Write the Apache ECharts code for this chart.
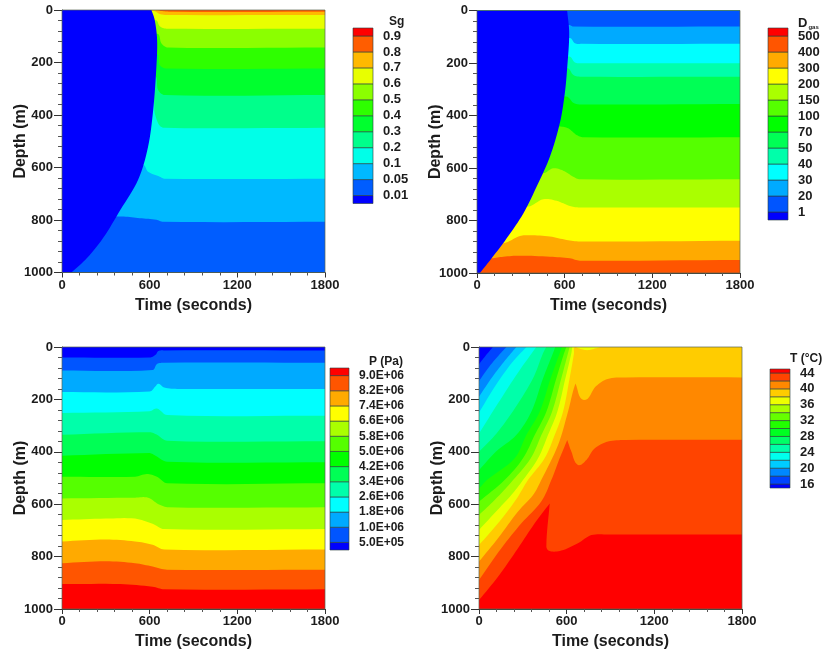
<!DOCTYPE html>
<html>
<head>
<meta charset="utf-8">
<title>Sg, Dgas, P, T</title>
<script src="https://cdn.jsdelivr.net/npm/echarts@6/dist/echarts.min.js"></script>
<style>
    html, body { margin: 0; padding: 0; background: #fff; }
    /* the source figure is a soft scan */
    #main { width: 825px; height: 655px; filter: blur(0.4px); }
</style>
</head>
<body>
<div id="main"></div>
<script>
// colour bar labels, bottom to top
const sgLevels = ['0.01', '0.05', '0.1', '0.2', '0.3', '0.4', '0.5', '0.6', '0.7', '0.8', '0.9'];
const dgasLevels = ['1', '20', '30', '40', '50', '70', '100', '150', '200', '300', '400', '500'];
const pLevels = ['5.0E+05', '1.0E+06', '1.8E+06', '2.6E+06', '3.4E+06', '4.2E+06', '5.0E+06', '5.8E+06', '6.6E+06', '7.4E+06', '8.2E+06', '9.0E+06'];
const tLevels = ['16', '18', '20', '22', '24', '26', '28', '30', '32', '34', '36', '38', '40', '42', '44'];

// contour lines as [time, depth], deepest first. the band index says which colour goes above the line
const sgBands = [1, 2, 3, 4, 5, 6, 7, 8, 9, 10, 0];
const sgContours = [
    [[0, 1000], [1800, 1000]],
    [[0, 787], [423, 787], [532, 793], [646, 799], [692, 807], [1800, 807]],
    [[0, 590], [555, 590], [589, 616], [669, 635], [703, 643], [1800, 643]],
    [[0, 343], [612, 343], [635, 394], [665, 438], [703, 449], [1800, 449]],
    [[0, 248], [628, 248], [658, 305], [703, 324], [1800, 324]],
    [[0, 166], [646, 166], [669, 210], [715, 223], [1800, 223]],
    [[0, 90], [651, 90], [681, 128], [726, 143], [1800, 143]],
    [[0, 39], [642, 39], [669, 62], [715, 71], [1800, 71]],
    [[0, 4], [628, 4], [669, 15], [715, 19], [1800, 19]],
    [[640, 0], [700, 5], [760, 7], [1800, 7]],
    [[0, 1000], [64, 1000], [64, 1000], [171, 945], [281, 869], [400, 761], [521, 647], [589, 521], [624, 381], [646, 217], [651, 115], [635, 39], [612, 0]]
];

const dgasBands = [11, 10, 9, 8, 7, 6, 5, 4, 3, 2, 1, 0];
const dgasContours = [
    [[0, 1000], [1800, 1000]],
    [[0, 944], [100, 944], [180, 938], [294, 934], [499, 938], [636, 944], [704, 953], [1800, 950]],
    [[0, 887], [180, 887], [294, 859], [362, 856], [499, 861], [613, 874], [704, 880], [1800, 877]],
    [[0, 747], [351, 747], [453, 719], [545, 725], [636, 745], [693, 750], [1800, 750]],
    [[0, 620], [453, 620], [522, 601], [590, 610], [658, 633], [704, 643], [1800, 643]],
    [[0, 442], [567, 442], [624, 449], [681, 474], [727, 483], [1800, 483]],
    [[0, 328], [613, 328], [658, 351], [704, 358], [1800, 356]],
    [[0, 220], [620, 220], [658, 245], [704, 252], [1800, 252]],
    [[0, 175], [631, 175], [670, 198], [715, 201], [1800, 201]],
    [[0, 105], [636, 105], [670, 125], [715, 127], [1800, 127]],
    [[0, 55], [631, 55], [658, 61], [1800, 61]],
    [[0, 1000], [20, 1000], [20, 1000], [100, 944], [203, 868], [317, 773], [419, 658], [499, 557], [567, 429], [601, 315], [618, 213], [631, 86], [617, 0]]
];

const pBands = [12, 11, 10, 9, 8, 7, 6, 5, 4, 3, 2, 1, 0];
const pContours = [
    [[0, 1000], [1800, 1000]],
    [[0, 905], [400, 905], [620, 915], [700, 925], [1800, 925]],
    [[0, 825], [300, 818], [500, 825], [620, 838], [720, 850], [1800, 850]],
    [[0, 742], [300, 735], [500, 742], [620, 755], [700, 773], [1800, 773]],
    [[0, 660], [300, 655], [500, 655], [620, 675], [700, 695], [1800, 695]],
    [[0, 578], [500, 575], [590, 575], [660, 600], [730, 612], [1800, 612]],
    [[0, 495], [500, 495], [580, 485], [650, 495], [720, 520], [1800, 520]],
    [[0, 415], [600, 405], [640, 415], [720, 438], [1800, 440]],
    [[0, 335], [600, 325], [650, 335], [720, 358], [1800, 360]],
    [[0, 252], [600, 245], [650, 235], [720, 260], [1800, 262]],
    [[0, 172], [600, 170], [640, 150], [660, 140], [700, 155], [800, 160], [1800, 160]],
    [[0, 90], [620, 88], [650, 65], [700, 60], [1800, 60]],
    [[0, 40], [600, 40], [640, 30], [660, 15], [700, 13], [1800, 13]]
];

const tBands = [15, 14, 13, 12, 11, 10, 9, 8, 7, 6, 5, 4, 3, 2, 1, 0];
const tContours = [
    [[0, 1000], [1800, 1000]],
    [[0, 966], [130, 877], [267, 768], [381, 673], [484, 597], [484, 597], [461, 762], [484, 779], [563, 777], [677, 749], [769, 718], [883, 716], [1800, 716]],
    [[0, 889], [153, 768], [290, 673], [426, 590], [495, 508], [552, 425], [604, 355], [604, 355], [632, 399], [677, 450], [735, 431], [791, 387], [883, 361], [1000, 355], [1800, 354]],
    [[0, 819], [130, 730], [267, 628], [370, 565], [426, 508], [541, 374], [609, 247], [643, 170], [660, 139], [660, 139], [718, 202], [800, 150], [880, 122], [1000, 116], [1800, 116]],
    [[0, 756], [130, 673], [255, 581], [335, 508], [449, 425], [518, 336], [575, 247], [620, 120], [650, 24], [655, 0], [680, 5], [740, 12], [800, 5], [830, 0]],
    [[0, 698], [130, 620], [221, 565], [301, 508], [404, 425], [472, 336], [536, 247], [591, 120], [632, 24], [638, 0]],
    [[0, 641], [107, 584], [233, 508], [354, 425], [427, 336], [500, 247], [563, 120], [609, 24], [620, 0]],
    [[0, 590], [175, 508], [301, 425], [381, 336], [461, 247], [529, 120], [582, 24], [598, 0]],
    [[0, 540], [60, 505], [244, 425], [324, 336], [415, 247], [490, 120], [552, 24], [568, 0]],
    [[0, 470], [115, 400], [255, 336], [358, 247], [438, 120], [506, 24], [522, 0]],
    [[0, 400], [120, 330], [250, 230], [369, 120], [438, 24], [460, 0]],
    [[0, 330], [130, 215], [270, 95], [392, 0]],
    [[0, 250], [110, 150], [225, 60], [324, 0]],
    [[0, 190], [90, 115], [180, 50], [255, 0]],
    [[0, 130], [70, 75], [130, 35], [187, 0]],
    [[0, 65], [50, 30], [95, 0]]
];

const fontName = '"Liberation Sans", Arial, sans-serif';
const textColor = '#1c1c1c';

// blue to red, same steps as the colour bar
function bandColor(i, count) {
    return 'hsl(' + (240 - 240 * i / (count - 1)) + ',100%,50%)';
}

// rounds the hand read contour. a doubled point stays a sharp tip
function smoothLine(pts) {
    let out = [pts[0]];
    let dirAt = function (i) {
        let a = pts[Math.max(i - 1, 0)], b = pts[Math.min(i + 1, pts.length - 1)];
        let dx = b[0] - a[0], dy = b[1] - a[1], l = Math.hypot(dx, dy) || 1;
        return [dx / l, dy / l];
    };
    for (let i = 0; i < pts.length - 1; i++) {
        let p = pts[i], q = pts[i + 1];
        let len = Math.hypot(q[0] - p[0], q[1] - p[1]);
        if (len === 0) continue;
        let d1 = dirAt(i), d2 = dirAt(i + 1);
        let c1 = [p[0] + d1[0] * len / 3, p[1] + d1[1] * len / 3];
        let c2 = [q[0] - d2[0] * len / 3, q[1] - d2[1] * len / 3];
        for (let k = 1; k <= 8; k++) {
            let t = k / 8, u = 1 - t;
            out.push([
                u * u * u * p[0] + 3 * u * u * t * c1[0] + 3 * u * t * t * c2[0] + t * t * t * q[0],
                u * u * u * p[1] + 3 * u * u * t * c1[1] + 3 * u * t * t * c2[1] + t * t * t * q[1]
            ]);
        }
    }
    return out;
}

let grids = [], xAxes = [], yAxes = [], series = [], titles = [];

function addPanel(box, contours, bands, count) {
    let idx = grids.length;
    grids.push({ left: box.left, top: box.top, width: box.width, height: box.height });
    xAxes.push({
        gridIndex: idx, type: 'value', min: 0, max: 1800, interval: 600,
        name: 'Time (seconds)', nameLocation: 'middle', nameGap: 25, nameMoveOverlap: false,
        nameTextStyle: { fontFamily: fontName, fontWeight: 'bold', fontSize: 16, color: textColor },
        axisLine: { onZero: false, lineStyle: { color: '#3a3f3a', width: 1 } },
        axisTick: { length: 5, lineStyle: { color: '#333' } },
        minorTick: { show: true, splitNumber: 5, length: 3, lineStyle: { color: '#555' } },
        axisLabel: { margin: 6, fontFamily: fontName, fontWeight: 'bold', fontSize: 13, color: textColor, showMinLabel: true, showMaxLabel: true, hideOverlap: false, formatter: String },
        splitLine: { show: false }
    });
    yAxes.push({
        gridIndex: idx, type: 'value', min: 0, max: 1000, interval: 200, inverse: true,
        name: 'Depth (m)', nameLocation: 'middle', nameGap: 33, nameMoveOverlap: false,
        nameTextStyle: { fontFamily: fontName, fontWeight: 'bold', fontSize: 16, color: textColor },
        axisLine: { onZero: false, lineStyle: { color: '#3a3f3a', width: 1 } },
        axisTick: { length: 8, lineStyle: { color: '#333' } },
        minorTick: { show: true, splitNumber: 5, length: 4, lineStyle: { color: '#555' } },
        axisLabel: { margin: 9, fontFamily: fontName, fontWeight: 'bold', fontSize: 13, color: textColor, showMinLabel: true, showMaxLabel: true, hideOverlap: false, formatter: String },
        splitLine: { show: false }
    });
    series.push({
        type: 'custom', xAxisIndex: idx, yAxisIndex: idx, silent: true, clip: true, z: 1,
        data: contours.map(function (c, i) { return [i]; }),
        renderItem: function (params, api) {
            let i = params.dataIndex;
            let line = contours[i];
            let last = line[line.length - 1];
            let points = smoothLine(line.map(function (p) { return api.coord(p); }));
            points.push(api.coord([last[0], 0]), api.coord([0, 0]));
            return { type: 'polygon', shape: { points: points }, style: { fill: bandColor(bands[i], count) } };
        }
    });
    // thin box round the plot
    series.push({
        type: 'custom', xAxisIndex: idx, yAxisIndex: idx, silent: true, clip: false, z: 2,
        data: [[0]],
        renderItem: function (params, api) {
            let a = api.coord([0, 0]), b = api.coord([1800, 1000]);
            return {
                type: 'rect',
                shape: { x: a[0], y: a[1], width: b[0] - a[0], height: b[1] - a[1] },
                style: { fill: 'none', stroke: 'rgba(90,100,80,0.7)', lineWidth: 1 }
            };
        }
    });
}

function addColorBar(box, levels, labelStep, fontSize) {
    let idx = grids.length;
    let count = levels.length + 1;
    let top = levels.length * 2;
    grids.push({ left: box.left, top: box.top, width: box.width, height: box.height });
    xAxes.push({ gridIndex: idx, type: 'value', min: 0, max: 1, show: false });
    yAxes.push({
        gridIndex: idx, type: 'value', min: 0, max: top, interval: 1, position: 'right',
        axisLine: { show: false }, axisTick: { show: false }, splitLine: { show: false },
        axisLabel: {
            margin: 10, padding: [4, 0, 0, 0], fontFamily: fontName, fontWeight: 'bold', fontSize: fontSize, color: textColor,
            formatter: function (v) {
                if (v % 2 === 0) return '';
                let n = (v - 1) / 2;
                return n % labelStep === 0 ? levels[n] : '';
            }
        }
    });
    series.push({
        type: 'custom', xAxisIndex: idx, yAxisIndex: idx, silent: true, z: 1,
        data: levels.concat(['']).map(function (c, i) { return [i]; }),
        renderItem: function (params, api) {
            let i = params.dataIndex;
            let a = api.coord([0, Math.min(i * 2 + 1, top)]);
            let b = api.coord([1, Math.max(i * 2 - 1, 0)]);
            return {
                type: 'rect',
                shape: { x: a[0], y: a[1], width: b[0] - a[0], height: b[1] - a[1] },
                style: { fill: bandColor(i, count), stroke: 'rgba(40,60,60,0.6)', lineWidth: 1 }
            };
        }
    });
}

addPanel({ left: 62, top: 10, width: 263, height: 262.5 }, sgContours, sgBands, sgLevels.length + 1);
addPanel({ left: 477, top: 10.5, width: 263, height: 262.5 }, dgasContours, dgasBands, dgasLevels.length + 1);
addPanel({ left: 62, top: 347, width: 263, height: 262 }, pContours, pBands, pLevels.length + 1);
addPanel({ left: 479, top: 347, width: 263, height: 262 }, tContours, tBands, tLevels.length + 1);

addColorBar({ left: 353, top: 28, width: 20, height: 175.5 }, sgLevels, 1, 13);
addColorBar({ left: 768, top: 28, width: 20, height: 192 }, dgasLevels, 1, 13);
addColorBar({ left: 330, top: 368, width: 19, height: 182 }, pLevels, 1, 12);
addColorBar({ left: 770, top: 369, width: 20, height: 119 }, tLevels, 2, 13);

function barTitle(text, left, top) {
    return {
        text: text, left: left, top: top, padding: 0,
        textStyle: {
            fontFamily: fontName, fontWeight: 'bold', fontSize: 12, color: textColor,
            rich: {
                big: { fontFamily: fontName, fontWeight: 'bold', fontSize: 13, color: textColor },
                low: { fontFamily: fontName, fontWeight: 'bold', fontSize: 6, color: textColor, verticalAlign: 'bottom', padding: [8, 0, 0, 1] }
            }
        }
    };
}
titles.push(barTitle('Sg', 389, 16));
titles.push(barTitle('{big|D}{low|gas}', 798, 16));
titles.push(barTitle('P (Pa)', 369, 356));
titles.push(barTitle('T (°C)', 790, 353));

let myChart = echarts.init(document.getElementById('main'));
myChart.setOption({
    animation: false,
    backgroundColor: '#fff',
    title: titles,
    grid: grids,
    xAxis: xAxes,
    yAxis: yAxes,
    series: series
});
</script>
</body>
</html>
